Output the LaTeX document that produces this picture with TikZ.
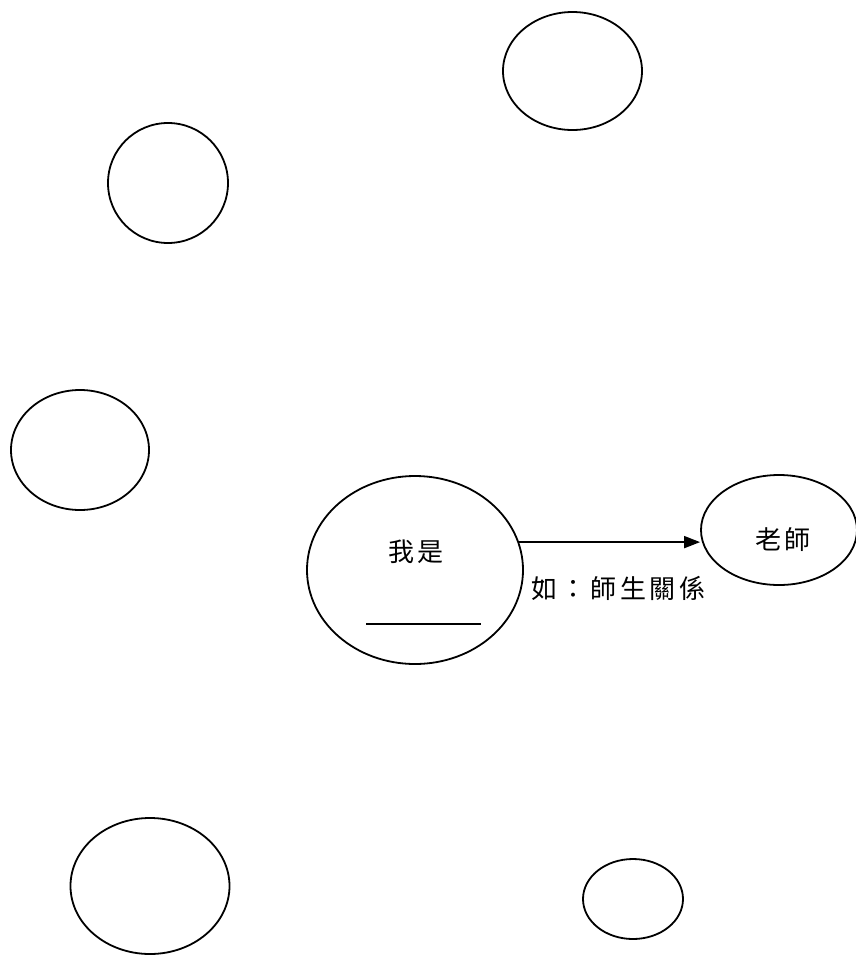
\documentclass[tikz,border=0pt]{standalone}
\usepackage{fontspec}
\newfontfamily\cjk[LetterSpace=14]{Noto Sans CJK TC}
\usetikzlibrary{shapes.geometric,arrows.meta}
\begin{document}
\begin{tikzpicture}[x=1pt,y=-1pt,
  bubble/.style={draw,ellipse,line width=1.8pt,inner sep=0pt},
  lbl/.style={font=\cjk\fontsize{26}{30}\selectfont,inner sep=0pt}]
\useasboundingbox[fill=white] (0,0) rectangle (856,956);
\node[bubble,minimum width=139pt,minimum height=118pt] (tr) at (572.5,71) {};
\node[bubble,minimum width=120pt,minimum height=120pt] (tl) at (168,183) {};
\node[bubble,minimum width=138pt,minimum height=120pt] (lm) at (80,450) {};
\node[bubble,minimum width=216pt,minimum height=188pt] (me) at (415,570) {};
\node[bubble,minimum width=156pt,minimum height=110pt] (te) at (779,530) {};
\node[bubble,minimum width=159pt,minimum height=136pt] (bl) at (150,886) {};
\node[bubble,minimum width=100pt,minimum height=80pt] (br) at (633,899) {};
\node[lbl] (metxt) at (416,552) {我是};
\coordinate (ul1) at (366,624);
\coordinate (ul2) at (481,624);
\draw[line width=1.8pt] (ul1) -- (ul2);
\node[lbl] (tetxt) at (783,540) {老師};
\draw[line width=1.8pt,-{Triangle[length=16pt,width=12pt]}] (me.15) -- (me.15 -| te.west);
\node[lbl,anchor=west] (rel) at (531,588) {如：師生關係};
\end{tikzpicture}
\end{document}
